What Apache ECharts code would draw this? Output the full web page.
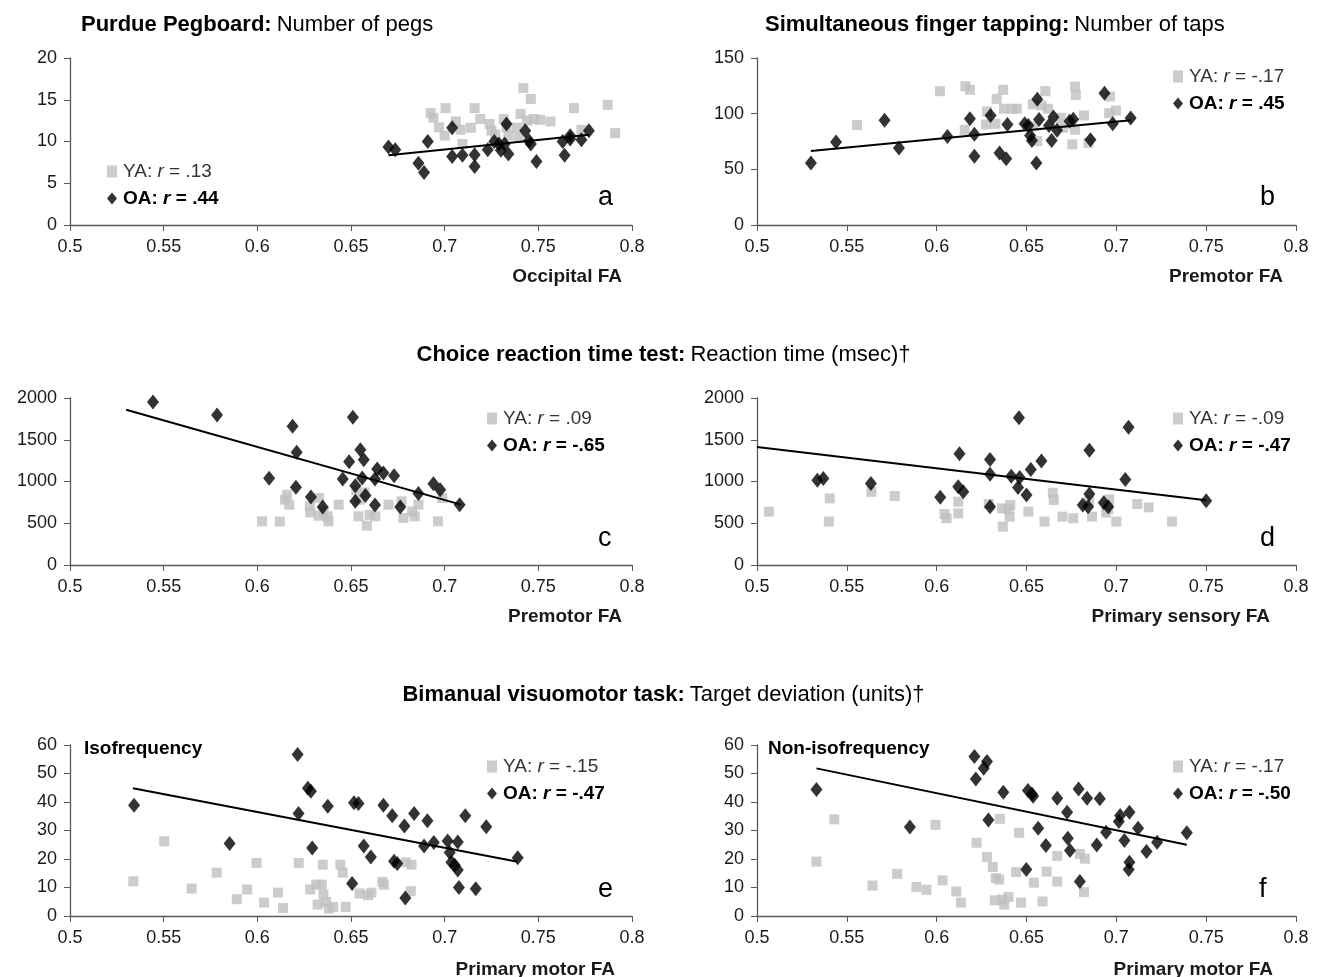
<!DOCTYPE html>
<html>
<head>
<meta charset="utf-8">
<script src="https://cdn.jsdelivr.net/npm/echarts@6/dist/echarts.min.js"></script>
<style>
  html, body { margin: 0; padding: 0; background: #fff; }
  #chart { width: 1327px; height: 977px; }
</style>
</head>
<body>
<div id="chart"></div>
<script>
// ---- data (FA value, score) ----
// a: Purdue Pegboard vs occipital FA
let aYA = [[0.6925,13.4],[0.694,12.85],[0.697,11.7],[0.7005,14.0],[0.700,10.7],[0.706,12.4],[0.7085,11.4],[0.7095,9.7],[0.714,11.65],[0.716,14.0],[0.719,12.7],[0.724,12.1],[0.725,11.3],[0.727,10.85],[0.7315,12.7],[0.733,11.7],[0.734,10.7],[0.7385,11.65],[0.7405,13.3],[0.7395,10.45],[0.742,16.4],[0.744,12.5],[0.746,15.1],[0.7475,12.7],[0.751,12.6],[0.7565,12.4],[0.769,14.0],[0.773,11.4],[0.787,14.4],[0.791,11.0]];
let aOA = [[0.670,9.34],[0.6736,9.0],[0.686,7.4],[0.689,6.3],[0.691,10.0],[0.704,11.65],[0.704,8.2],[0.7095,8.35],[0.716,8.4],[0.716,7.0],[0.723,9.0],[0.7265,10.0],[0.729,9.7],[0.730,8.95],[0.732,9.7],[0.733,12.1],[0.734,8.5],[0.743,11.3],[0.745,10.1],[0.746,9.7],[0.749,7.6],[0.763,10.0],[0.764,8.35],[0.767,10.7],[0.767,10.3],[0.773,10.2],[0.777,11.3]];
let aFit = [[0.670,8.35],[0.777,10.8]];

// b: finger tapping vs premotor FA
let bYA = [[0.5557,89.8],[0.6018,120.2],[0.616,124.7],[0.6185,121.5],[0.6156,85.5],[0.628,102],[0.6275,90.3],[0.6334,113.3],[0.6327,90.9],[0.637,121.4],[0.6375,104.4],[0.642,104.4],[0.6446,104.4],[0.6535,108.3],[0.654,88.6],[0.656,75.4],[0.6585,107.4],[0.6605,120.2],[0.662,104.4],[0.669,96.3],[0.6705,87.4],[0.677,124.3],[0.6775,116.8],[0.677,85.6],[0.6755,72.4],[0.682,98.4],[0.6845,73.8],[0.6965,115.4],[0.696,100.5],[0.6998,102.9]];
let bOA = [[0.530,55.8],[0.544,74.5],[0.571,94],[0.579,69.2],[0.606,79.6],[0.6185,95.4],[0.621,81.4],[0.621,61.7],[0.630,98.4],[0.635,64.7],[0.6387,59.6],[0.6394,90.3],[0.649,91],[0.651,89.4],[0.652,80.5],[0.653,76],[0.6555,55.8],[0.656,113],[0.657,94.8],[0.6625,89.4],[0.664,76],[0.665,97],[0.667,85],[0.674,93.3],[0.676,95],[0.6856,76.6],[0.6934,118.4],[0.698,91],[0.708,96]];
let bFit = [[0.530,66.5],[0.708,94]];

// c: reaction time vs premotor FA
let cYA = [[0.6025,523],[0.612,520],[0.6159,842],[0.6148,782],[0.617,722],[0.628,703],[0.6282,630],[0.633,802],[0.6354,642],[0.6376,583],[0.638,523],[0.6327,591],[0.6434,722],[0.6528,894],[0.6546,782],[0.6573,870],[0.654,583],[0.6585,471],[0.660,600],[0.663,583],[0.670,722],[0.677,762],[0.678,563],[0.6826,642],[0.684,583],[0.686,722],[0.6964,523],[0.6987,802]];
let cOA = [[0.5443,1952],[0.5785,1797],[0.6063,1038],[0.6188,1661],[0.621,1349],[0.6206,930],[0.6286,815],[0.6349,695],[0.6456,1030],[0.649,1238],[0.651,1769],[0.6523,950],[0.6523,763],[0.655,1381],[0.6568,1261],[0.656,1042],[0.6577,831],[0.6628,1030],[0.664,1150],[0.6673,1102],[0.673,1070],[0.6628,719],[0.6763,695],[0.686,855],[0.694,974],[0.6976,902],[0.708,723]];
let cFit = [[0.530,1860],[0.7087,723]];

// d: reaction time vs primary sensory FA
let dYA = [[0.5066,639],[0.5405,798],[0.540,520],[0.5637,877],[0.5767,825],[0.6044,611],[0.6055,560],[0.612,619],[0.612,758],[0.629,730],[0.6363,679],[0.6368,460],[0.640,667],[0.641,718],[0.6406,579],[0.651,639],[0.660,520],[0.6647,865],[0.6652,778],[0.670,579],[0.676,560],[0.6848,770],[0.6865,579],[0.6943,627],[0.6955,667],[0.696,786],[0.700,520],[0.7116,730],[0.718,690],[0.731,520]];
let dOA = [[0.5336,1016],[0.5369,1036],[0.5634,976],[0.602,810],[0.612,937],[0.6127,1333],[0.6148,877],[0.6297,1262],[0.6297,1087],[0.6297,698],[0.6415,1063],[0.6458,1762],[0.6462,1047],[0.6453,929],[0.650,837],[0.6524,1143],[0.6583,1246],[0.6813,718],[0.685,1373],[0.685,849],[0.6843,698],[0.693,746],[0.6955,698],[0.705,1024],[0.7068,1651],[0.750,770]];
let dFit = [[0.500,1413],[0.750,775]];

// e: isofrequency target deviation vs primary motor FA
let eYA = [[0.5338,12.2],[0.5503,26.2],[0.5649,9.6],[0.5783,15.2],[0.589,5.9],[0.5946,9.3],[0.5996,18.6],[0.6036,4.7],[0.611,8.2],[0.6137,2.8],[0.6221,18.6],[0.6282,9.3],[0.6315,11.0],[0.6322,4.0],[0.6344,11.0],[0.6349,18.0],[0.6353,7.5],[0.6367,4.9],[0.6382,2.6],[0.6405,3.2],[0.6443,18.0],[0.6456,15.2],[0.6472,3.2],[0.6546,7.9],[0.6591,7.3],[0.6609,8.2],[0.6667,12.0],[0.6676,11.0],[0.6792,18.8],[0.6823,18.0],[0.6819,8.7]];
let eOA = [[0.5342,38.9],[0.5852,25.4],[0.6215,56.7],[0.622,36.0],[0.627,44.8],[0.6286,43.8],[0.6293,23.9],[0.6376,38.5],[0.6506,11.4],[0.6516,39.7],[0.654,39.5],[0.6568,24.6],[0.6606,20.7],[0.6673,38.9],[0.672,35.2],[0.673,19.2],[0.6747,18.4],[0.6785,31.6],[0.679,6.3],[0.6837,36.0],[0.689,24.6],[0.6908,33.4],[0.6942,25.8],[0.7016,26.3],[0.7027,22.3],[0.7036,18.9],[0.7054,17.8],[0.707,16.1],[0.707,26.0],[0.7076,10.0],[0.711,35.2],[0.7166,9.6],[0.7222,31.3],[0.739,20.4]];
let eFit = [[0.5336,44.8],[0.739,19.0]];

// f: non-isofrequency target deviation vs primary motor FA
let fYA = [[0.5331,19.1],[0.543,33.9],[0.5643,10.7],[0.578,14.8],[0.5887,10.2],[0.5943,9.2],[0.5993,32.0],[0.6033,12.5],[0.6109,8.6],[0.6135,4.7],[0.6222,25.7],[0.628,20.7],[0.6312,17.2],[0.6329,13.3],[0.6324,5.5],[0.6348,12.8],[0.6352,34.1],[0.6364,5.8],[0.6376,4.0],[0.640,6.7],[0.6442,15.4],[0.6459,29.2],[0.647,4.7],[0.6541,11.7],[0.6589,5.1],[0.6612,15.6],[0.6671,12.1],[0.6671,21.1],[0.6797,21.8],[0.6825,20.1],[0.682,8.4]];
let fOA = [[0.5331,44.4],[0.5851,31.2],[0.621,56.0],[0.6218,48.1],[0.6262,51.8],[0.628,54.2],[0.6288,33.7],[0.6371,43.4],[0.6499,16.3],[0.6508,44.0],[0.653,42.8],[0.6537,42.0],[0.6565,30.8],[0.6608,24.7],[0.6671,41.3],[0.6726,36.4],[0.673,27.3],[0.6742,23.0],[0.679,44.6],[0.6797,12.1],[0.6837,41.3],[0.6891,24.9],[0.6908,41.1],[0.6943,29.4],[0.7014,33.2],[0.7021,35.3],[0.7045,26.5],[0.7073,36.4],[0.7073,18.9],[0.7069,16.3],[0.7121,30.8],[0.7168,22.6],[0.7227,25.9],[0.7392,29.2]];
let fFit = [[0.5331,51.8],[0.7392,25.0]];

// correlation labels
let ya_r = ['.13', '-.17', '.09', '-.09', '-.15', '-.17'];
let oa_r = ['.44', '.45', '-.65', '-.47', '-.47', '-.50'];
let xNames = ['Occipital FA', 'Premotor FA', 'Premotor FA', 'Primary sensory FA', 'Primary motor FA', 'Primary motor FA'];
let yMax = [20, 150, 2000, 2000, 60, 60];
let yStep = [5, 50, 500, 500, 10, 10];

let FONT = '"Liberation Sans", Arial, Helvetica, sans-serif';

/**panel layout (px) */
let panels = [
  { id: 'a', ya: aYA, oa: aOA, fit: aFit, grid: [70, 58, 562, 167], leg: [102, 157], letter: [593, 179], nameRight: 700, nameTop: 262 },
  { id: 'b', ya: bYA, oa: bOA, fit: bFit, grid: [757, 58, 539, 167], leg: [1168, 62], letter: [1255, 179], nameRight: 39, nameTop: 262 },
  { id: 'c', ya: cYA, oa: cOA, fit: cFit, grid: [70, 398, 562, 167], leg: [482, 404], letter: [593, 520], nameRight: 700, nameTop: 602 },
  { id: 'd', ya: dYA, oa: dOA, fit: dFit, grid: [757, 398, 539, 167], leg: [1168, 404], letter: [1255, 520], nameRight: 52, nameTop: 602 },
  { id: 'e', ya: eYA, oa: eOA, fit: eFit, grid: [70, 745, 562, 171], leg: [482, 752], letter: [593, 871], nameRight: 707, nameTop: 955 },
  { id: 'f', ya: fYA, oa: fOA, fit: fFit, grid: [757, 745, 539, 171], leg: [1168, 752], letter: [1254, 871], nameRight: 49, nameTop: 955 }
];

let richText = {
  b: { fontFamily: FONT, fontWeight: 'bold', fontSize: 22, color: '#000' },
  n: { fontFamily: FONT, fontWeight: 'normal', fontSize: 22, color: '#000' }
};
let legendRich = {
  y: { fontFamily: FONT, fontSize: 19, color: '#333', fontWeight: 'normal' },
  yi: { fontFamily: FONT, fontSize: 19, color: '#333', fontWeight: 'normal', fontStyle: 'italic' },
  o: { fontFamily: FONT, fontSize: 19, color: '#000', fontWeight: 'bold' },
  oi: { fontFamily: FONT, fontSize: 19, color: '#000', fontWeight: 'bold', fontStyle: 'italic' }
};

let legendLabel = {};
let option = {
  backgroundColor: '#fff',
  animation: false,
  textStyle: { fontFamily: FONT },
  title: [
    { text: '{b|Purdue Pegboard:} {n|Number of pegs}', left: 76, top: 9, textStyle: { fontWeight: 'normal', rich: richText } },
    { text: '{b|Simultaneous finger tapping:} {n|Number of taps}', left: 760, top: 9, textStyle: { fontWeight: 'normal', rich: richText } },
    { text: '{b|Choice reaction time test:} {n|Reaction time (msec)†}', left: 'center', top: 339, textStyle: { fontWeight: 'normal', rich: richText } },
    { text: '{b|Bimanual visuomotor task:} {n|Target deviation (units)†}', left: 'center', top: 679, textStyle: { fontWeight: 'normal', rich: richText } },
    { text: 'Isofrequency', left: 79, top: 734, textStyle: { fontFamily: FONT, fontSize: 19, fontWeight: 'bold', color: '#000' } },
    { text: 'Non-isofrequency', left: 763, top: 734, textStyle: { fontFamily: FONT, fontSize: 19, fontWeight: 'bold', color: '#000' } }
  ],
  grid: [], xAxis: [], yAxis: [], legend: [], series: []
};

panels.forEach(function (p, i) {
  option.grid.push({ left: p.grid[0], top: p.grid[1], width: p.grid[2], height: p.grid[3] });
  option.xAxis.push({
    gridIndex: i, type: 'value', min: 0.5, max: 0.8, interval: 0.05,
    axisLine: { lineStyle: { color: '#595959', width: 1.3 } },
    axisTick: { show: true, length: 6, lineStyle: { color: '#595959' } },
    axisLabel: { fontFamily: FONT, fontSize: 18, color: '#1a1a1a', margin: 13 },
    splitLine: { show: false }
  });
  option.yAxis.push({
    gridIndex: i, type: 'value', min: 0, max: yMax[i], interval: yStep[i],
    axisLine: { show: true, lineStyle: { color: '#595959', width: 1.3 } },
    axisTick: { show: true, length: 6, lineStyle: { color: '#595959' } },
    axisLabel: { fontFamily: FONT, fontSize: 18, color: '#1a1a1a', margin: 13, formatter: function (v) { return String(v); } },
    splitLine: { show: false }
  });
  let yaName = 'YA ' + p.id, oaName = 'OA ' + p.id;
  legendLabel[yaName] = '{y|YA: }{yi|r}{y| = ' + ya_r[i] + '}';
  legendLabel[oaName] = '{o|OA: }{oi|r}{o| = ' + oa_r[i] + '}';
  option.legend.push({
    orient: 'vertical', left: p.leg[0], top: p.leg[1], itemGap: 8,
    itemWidth: 10, itemHeight: 12, selectedMode: false,
    data: [{ name: yaName, icon: 'rect' }, { name: oaName, icon: 'diamond' }],
    formatter: function (name) { return legendLabel[name]; },
    textStyle: { rich: legendRich, padding: [0, 0, 0, 1] }
  });
  option.series.push({
    name: yaName, type: 'scatter', xAxisIndex: i, yAxisIndex: i,
    symbol: 'rect', symbolSize: 10, itemStyle: { color: '#bfbfbf' }, data: p.ya, z: 2
  });
  option.series.push({
    name: 'fit ' + p.id, type: 'line', xAxisIndex: i, yAxisIndex: i,
    symbol: 'none', lineStyle: { color: '#000', width: 2 }, data: p.fit, z: 3
  });
  option.series.push({
    name: oaName, type: 'scatter', xAxisIndex: i, yAxisIndex: i,
    symbol: 'diamond', symbolSize: [12, 15], itemStyle: { color: '#000' }, data: p.oa, z: 4
  });
  option.title.push({ text: p.id, left: p.letter[0], top: p.letter[1], textStyle: { fontFamily: FONT, fontSize: 27, fontWeight: 'normal', color: '#000' } });
  option.title.push({ text: xNames[i], right: p.nameRight, top: p.nameTop, textStyle: { fontFamily: FONT, fontSize: 19, fontWeight: 'bold', color: '#1a1a1a' } });
});

let chartIns = echarts.init(document.getElementById('chart'));
chartIns.setOption(option);
</script>
</body>
</html>
